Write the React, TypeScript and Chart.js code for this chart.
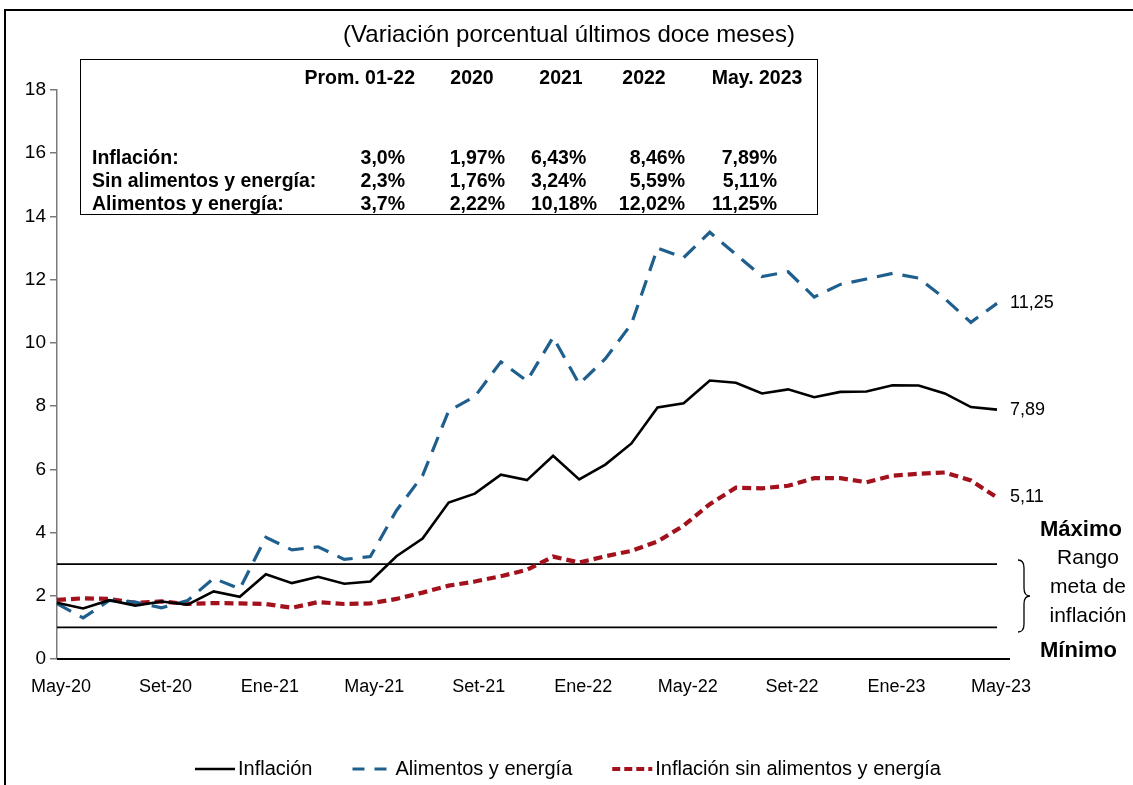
import React, { useEffect, useRef } from "react";
import { Chart, registerables } from "chart.js";

Chart.register(...registerables);

// ---------------- DATA ----------------
const MONTHS = [
  "May-20", "Jun-20", "Jul-20", "Ago-20", "Set-20", "Oct-20", "Nov-20", "Dic-20",
  "Ene-21", "Feb-21", "Mar-21", "Abr-21", "May-21", "Jun-21", "Jul-21", "Ago-21",
  "Set-21", "Oct-21", "Nov-21", "Dic-21", "Ene-22", "Feb-22", "Mar-22", "Abr-22",
  "May-22", "Jun-22", "Jul-22", "Ago-22", "Set-22", "Oct-22", "Nov-22", "Dic-22",
  "Ene-23", "Feb-23", "Mar-23", "Abr-23", "May-23",
];

const X_TICK_LABELS = [
  "May-20", "Set-20", "Ene-21", "May-21", "Set-21",
  "Ene-22", "May-22", "Set-22", "Ene-23", "May-23",
];

const Y_MIN = 0;
const Y_MAX = 18;
const Y_STEP = 2;

const INFLACION = [
  1.78, 1.6, 1.86, 1.69, 1.82, 1.72, 2.14, 1.97,
  2.68, 2.4, 2.6, 2.38, 2.45, 3.25, 3.81, 4.95,
  5.23, 5.83, 5.66, 6.43, 5.68, 6.15, 6.82, 7.96,
  8.09, 8.81, 8.74, 8.4, 8.53, 8.28, 8.45, 8.46,
  8.66, 8.65, 8.4, 7.97, 7.89,
];

const ALIMENTOS_ENERGIA = [
  1.75, 1.3, 1.85, 1.8, 1.62, 1.85, 2.55, 2.22,
  3.85, 3.45, 3.55, 3.15, 3.24, 4.7, 5.8, 7.85,
  8.3, 9.4, 8.8, 10.18, 8.7, 9.5, 10.6, 13.0,
  12.7, 13.5, 12.8, 12.1, 12.25, 11.45, 11.85, 12.02,
  12.2, 12.05, 11.4, 10.65, 11.25,
];

const SIN_ALIMENTOS_ENERGIA = [
  1.87, 1.92, 1.9, 1.78, 1.82, 1.74, 1.77, 1.76,
  1.74, 1.62, 1.8, 1.74, 1.76, 1.9, 2.1, 2.32,
  2.45, 2.62, 2.82, 3.24, 3.05, 3.25, 3.42, 3.72,
  4.22, 4.9, 5.42, 5.4, 5.48, 5.72, 5.72, 5.59,
  5.8, 5.86, 5.9, 5.65, 5.11,
];

const RANGO_MAX = 3;
const RANGO_MIN = 1;

const SERIES_LABELS = ["Inflación", "Alimentos y energía", "Inflación sin alimentos y energía"];

const TITLE = "(Variación porcentual últimos doce meses)";
const TABLE_HEADERS = ["Prom. 01-22", "2020", "2021", "2022", "May. 2023"];
const TABLE_ROW_LABELS = ["Inflación:", "Sin alimentos y energía:", "Alimentos y energía:"];
const TABLE_INFLACION = ["3,0%", "1,97%", "6,43%", "8,46%", "7,89%"];
const TABLE_SIN_AE = ["2,3%", "1,76%", "3,24%", "5,59%", "5,11%"];
const TABLE_AE = ["3,7%", "2,22%", "10,18%", "12,02%", "11,25%"];

// ---------------- STYLE ----------------
const FONT = '"Liberation Sans", Arial, Helvetica, sans-serif';
const BLACK = "#000000";
const BLUE = "#1f5f8e";
const RED = "#a3121c";

const fmt = (v: number) => v.toFixed(2).replace(".", ",");

const overlayPlugin = {
  id: "overlay",
  beforeDatasetsDraw(chart: any) {
    const { ctx, chartArea, scales } = chart;
    const y = scales.y;
    ctx.save();
    ctx.strokeStyle = BLACK;
    ctx.lineWidth = 1.6;
    ctx.setLineDash([]);
    [RANGO_MAX, RANGO_MIN].forEach((v) => {
      const py = y.getPixelForValue(v);
      ctx.beginPath();
      ctx.moveTo(chartArea.left, py);
      ctx.lineTo(chartArea.right, py);
      ctx.stroke();
    });
    // x axis line (extends a little past the last point)
    const p0 = y.getPixelForValue(0);
    ctx.lineWidth = 2;
    ctx.beginPath();
    ctx.moveTo(chartArea.left, p0);
    ctx.lineTo(chartArea.right + 13, p0);
    ctx.stroke();
    ctx.restore();
  },
  afterDraw(chart: any) {
    const { ctx, chartArea, scales, data } = chart;
    const y = scales.y;
    ctx.save();
    // end labels
    ctx.fillStyle = BLACK;
    ctx.font = `18px ${FONT}`;
    ctx.textAlign = "left";
    ctx.textBaseline = "middle";
    data.datasets.forEach((ds: any) => {
      const last = ds.data[ds.data.length - 1];
      ctx.fillText(fmt(last), chartArea.right + 13, y.getPixelForValue(last));
    });
    // legend
    const ly = 769;
    let lx = 195;
    ctx.font = `20px ${FONT}`;
    data.datasets.forEach((ds: any) => {
      ctx.beginPath();
      ctx.strokeStyle = ds.borderColor;
      ctx.lineWidth = ds.borderWidth;
      ctx.setLineDash(ds.legendDash || []);
      ctx.moveTo(lx, ly);
      ctx.lineTo(lx + 40, ly);
      ctx.stroke();
      lx += 43;
      ctx.fillStyle = BLACK;
      ctx.fillText(ds.label, lx, ly);
      lx += ctx.measureText(ds.label).width + 40;
    });
    ctx.restore();
  },
};

export default function App() {
  const canvasRef = useRef<HTMLCanvasElement | null>(null);

  useEffect(() => {
    if (!canvasRef.current) return;
    const chart = new Chart(canvasRef.current, {
      type: "line",
      data: {
        labels: MONTHS,
        datasets: [
          {
            label: SERIES_LABELS[0],
            data: INFLACION,
            borderColor: BLACK,
            borderWidth: 2.6,
            pointRadius: 0,
            tension: 0,
            legendDash: [],
          } as any,
          {
            label: SERIES_LABELS[1],
            data: ALIMENTOS_ENERGIA,
            borderColor: BLUE,
            borderWidth: 3.2,
            borderDash: [16, 10],
            pointRadius: 0,
            tension: 0,
            legendDash: [12, 10],
          } as any,
          {
            label: SERIES_LABELS[2],
            data: SIN_ALIMENTOS_ENERGIA,
            borderColor: RED,
            borderWidth: 4.2,
            borderDash: [9, 5],
            pointRadius: 0,
            tension: 0,
            legendDash: [8, 4],
          } as any,
        ],
      },
      options: {
        animation: false,
        responsive: false,
        devicePixelRatio: 1,
        layout: { padding: { left: 0, right: 136, top: 90, bottom: 0 } },
        plugins: {
          legend: { display: false },
          tooltip: { enabled: false },
          title: { display: false },
        },
        scales: {
          x: {
            type: "category",
            offset: false,
            grid: { display: false, drawTicks: false },
            border: { display: false },
            ticks: {
              autoSkip: false,
              maxRotation: 0,
              padding: 17,
              labelOffset: 4,
              color: BLACK,
              font: { family: FONT, size: 18 },
              callback: (_v: any, i: number) =>
                X_TICK_LABELS.includes(MONTHS[i]) ? MONTHS[i] : "",
            },
            afterFit: (scale: any) => {
              scale.height = 126;
            },
          },
          y: {
            min: Y_MIN,
            max: Y_MAX,
            ticks: {
              stepSize: Y_STEP,
              padding: 4,
              color: BLACK,
              font: { family: FONT, size: 19 },
            },
            grid: {
              display: true,
              drawOnChartArea: false,
              drawTicks: true,
              tickLength: 7,
              color: "#7a7a7a",
              lineWidth: 1.5,
            },
            border: { display: true, color: "#7a7a7a", width: 1.5 },
            afterFit: (scale: any) => {
              scale.width = 57;
            },
          },
        },
      } as any,
      plugins: [overlayPlugin],
    });
    return () => chart.destroy();
  }, []);

  const txt: React.CSSProperties = {
    position: "absolute",
    fontFamily: FONT,
    color: BLACK,
    whiteSpace: "nowrap",
    lineHeight: "24px",
  };

  const headerCenters = [359, 472, 561, 644, 757];
  const colRights = [405, 505, 0, 685, 777];
  const col3Left = 531;
  const rowCenters = [157, 180, 203];
  const rows = [TABLE_INFLACION, TABLE_SIN_AE, TABLE_AE];

  return (
    <div
      style={{
        position: "fixed",
        left: 0,
        top: 0,
        width: 1133,
        height: 785,
        overflow: "hidden",
        background: "#fff",
      }}
    >
      <div
        style={{
          position: "absolute",
          left: 4,
          top: 9,
          width: 1200,
          height: 900,
          border: "2px solid #000",
          boxSizing: "border-box",
        }}
      />
      <canvas
        ref={canvasRef}
        width={1133}
        height={785}
        style={{ position: "absolute", left: 0, top: 0 }}
      />
      {/* title */}
      <div style={{ ...txt, left: 269, width: 600, top: 34 - 14, lineHeight: "28px", textAlign: "center", fontSize: 24 }}>
        {TITLE}
      </div>
      {/* table box */}
      <div
        style={{
          position: "absolute",
          left: 80,
          top: 59,
          width: 738,
          height: 156,
          border: "1.5px solid #000",
          boxSizing: "border-box",
          background: "#fff",
        }}
      />
      {TABLE_HEADERS.map((h, i) =>
        i === 0 ? (
          <div key={h} style={{ ...txt, left: 415 - 200, width: 200, textAlign: "right", top: 77 - 12, fontSize: 19.5, fontWeight: "bold" }}>
            {h}
          </div>
        ) : (
          <div key={h} style={{ ...txt, left: headerCenters[i] - 100, width: 200, textAlign: "center", top: 77 - 12, fontSize: 19.5, fontWeight: "bold" }}>
            {h}
          </div>
        )
      )}
      {TABLE_ROW_LABELS.map((l, r) => (
        <div key={l} style={{ ...txt, left: 92, top: rowCenters[r] - 12, fontSize: 19.5, fontWeight: "bold" }}>
          {l}
        </div>
      ))}
      {rows.map((row, r) =>
        row.map((v, c) =>
          c === 2 ? (
            <div key={`${r}-${c}`} style={{ ...txt, left: col3Left, top: rowCenters[r] - 12, fontSize: 19.5, fontWeight: "bold" }}>
              {v}
            </div>
          ) : (
            <div key={`${r}-${c}`} style={{ ...txt, left: colRights[c] - 150, width: 150, textAlign: "right", top: rowCenters[r] - 12, fontSize: 19.5, fontWeight: "bold" }}>
              {v}
            </div>
          )
        )
      )}
      {/* right annotation */}
      <div style={{ ...txt, left: 1040, top: 529 - 12, fontSize: 22, fontWeight: "bold" }}>Máximo</div>
      <div style={{ ...txt, left: 1088 - 50, width: 100, textAlign: "center", top: 557 - 12, fontSize: 21 }}>Rango</div>
      <div style={{ ...txt, left: 1088 - 50, width: 100, textAlign: "center", top: 586 - 12, fontSize: 21 }}>meta de</div>
      <div style={{ ...txt, left: 1088 - 50, width: 100, textAlign: "center", top: 615 - 12, fontSize: 21 }}>inflación</div>
      <div style={{ ...txt, left: 1040, top: 650 - 12, fontSize: 22, fontWeight: "bold" }}>Mínimo</div>
      <svg style={{ position: "absolute", left: 1014, top: 558 }} width={22} height={76}>
        <path
          d="M4 2 Q10 2 10 10 L10 30 Q10 38 16 38 Q10 38 10 46 L10 66 Q10 74 4 74"
          fill="none"
          stroke="#000"
          strokeWidth={1.3}
        />
      </svg>
    </div>
  );
}
